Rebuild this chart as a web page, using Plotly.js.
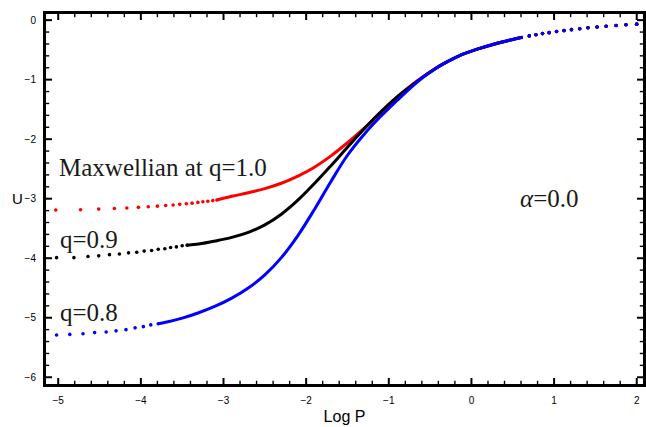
<!DOCTYPE html>
<html>
<head>
<meta charset="utf-8">
<script src="https://cdn.plot.ly/plotly-3.0.1.min.js"></script>
<style>html,body{margin:0;padding:0;background:#fff;}#chart{width:646px;height:427px;}</style>
</head>
<body>
<div id="chart"></div>
<script>
// ---- data ----
const xTicks = [-5, -4, -3, -2, -1, 0, 1, 2];
const yTicks = [-6, -5, -4, -3, -2, -1, 0];
const minorPerMajor = 5;

// left sparse dotted tails
const redTailX   = [-5.03, -4.73, -4.51, -4.32, -4.17, -4.03, -3.91, -3.80, -3.70, -3.61, -3.53, -3.45, -3.38, -3.31, -3.25, -3.19, -3.13, -3.08];
const redTailY   = [-3.19, -3.185, -3.175, -3.165, -3.155, -3.145, -3.135, -3.125, -3.115, -3.105, -3.095, -3.085, -3.075, -3.062, -3.052, -3.042, -3.032, -3.022];
const blackTailX = [-5.02, -4.81, -4.64, -4.51, -4.38, -4.26, -4.15, -4.05, -3.96, -3.87, -3.79, -3.71, -3.64, -3.57, -3.50, -3.44];
const blackTailY = [-3.99, -3.99, -3.97, -3.96, -3.94, -3.93, -3.91, -3.90, -3.88, -3.87, -3.85, -3.84, -3.82, -3.81, -3.79, -3.78];
const blueTailX  = [-5.02, -4.86, -4.70, -4.56, -4.42, -4.30, -4.18, -4.07, -3.97, -3.88, -3.79];
const blueTailY  = [-5.29, -5.28, -5.27, -5.25, -5.24, -5.22, -5.20, -5.17, -5.15, -5.12, -5.10];

// dense middle parts
const redMidX   = [-3.08, -2.9, -2.7, -2.5, -2.3, -2.1, -1.9, -1.7, -1.5, -1.3, -1.1, -0.9, -0.73, -0.6, -0.45, -0.33, -0.15, 0.07, 0.27, 0.47, 0.62];
const redMidY   = [-3.022, -2.96, -2.90, -2.83, -2.74, -2.62, -2.47, -2.28, -2.06, -1.82, -1.56, -1.30, -1.095, -0.965, -0.825, -0.726, -0.60, -0.488, -0.404, -0.334, -0.288];
const blackMidX = [-3.44, -3.3, -3.1, -2.9, -2.7, -2.5, -2.3, -2.1, -1.9, -1.7, -1.5, -1.3, -1.1, -0.9, -0.73, -0.6, -0.45, -0.33, -0.15, 0.07, 0.27, 0.47, 0.62];
const blackMidY = [-3.78, -3.76, -3.71, -3.65, -3.565, -3.44, -3.26, -3.025, -2.745, -2.445, -2.135, -1.83, -1.545, -1.29, -1.105, -0.97, -0.826, -0.726, -0.60, -0.488, -0.404, -0.334, -0.288];
const blueMidX  = [-3.79, -3.7, -3.5, -3.3, -3.1, -2.9, -2.7, -2.5, -2.3, -2.1, -1.9, -1.7, -1.5, -1.3, -1.1, -0.9, -0.73, -0.6, -0.45, -0.33, -0.15, 0.07, 0.27, 0.47, 0.62];
const blueMidY  = [-5.10, -5.076, -5.006, -4.916, -4.806, -4.67, -4.50, -4.28, -3.99, -3.62, -3.18, -2.71, -2.27, -1.92, -1.62, -1.35, -1.128, -0.976, -0.828, -0.727, -0.60, -0.488, -0.404, -0.334, -0.288];

// right sparse dotted tail (all three curves coincide)
const rightTailX = [0.70, 0.78, 0.86, 0.94, 1.03, 1.12, 1.21, 1.31, 1.41, 1.52, 1.63, 1.75, 1.87, 2.00];
const rightTailY = [-0.265, -0.245, -0.226, -0.21, -0.192, -0.176, -0.16, -0.144, -0.129, -0.116, -0.102, -0.09, -0.078, -0.067];

const curveColors = ['#ff0000', '#000000', '#0000ff'];
const curveLabels = ['Maxwellian at q=1.0', 'q=0.9', 'q=0.8'];

const serif = {family: 'Liberation Serif, Times New Roman, serif', size: 25, color: '#1a1a1a'};
const sans = 'Liberation Sans, Arial, Helvetica, sans-serif';
const xRange = [-5.16, 2.088];
const yRange = [-6.13, 0.12];

// ---- build traces ----
const tails = [[redTailX, redTailY], [blackTailX, blackTailY], [blueTailX, blueTailY]];
const mids = [[redMidX, redMidY], [blackMidX, blackMidY], [blueMidX, blueMidY]];
const traces = [];
for (let i = 0; i < 3; i++) {
  traces.push({x: tails[i][0], y: tails[i][1], mode: 'markers', type: 'scatter',
    marker: {color: curveColors[i], size: 3.6}, showlegend: false, hoverinfo: 'skip'});
  traces.push({x: mids[i][0], y: mids[i][1], mode: 'lines', type: 'scatter',
    line: {color: curveColors[i], width: 3, shape: 'spline', smoothing: 1}, showlegend: false, hoverinfo: 'skip'});
  traces.push({x: rightTailX, y: rightTailY, mode: 'markers', type: 'scatter',
    marker: {color: curveColors[i], size: 3.6}, showlegend: false, hoverinfo: 'skip'});
}

// ---- inside ticks (major + minor, all four sides) ----
function tickValues(ticks, range) {
  const step = (ticks[1] - ticks[0]) / minorPerMajor;
  const k0 = Math.ceil(range[0] / step - 1e-9), k1 = Math.floor(range[1] / step + 1e-9);
  const major = [], minor = [];
  for (let k = k0; k <= k1; k++) {
    const v = Math.round(k * step * 1000) / 1000;
    (k % minorPerMajor === 0 ? major : minor).push(v);
  }
  return {major: major, minor: minor};
}
const xtv = tickValues(xTicks, xRange), ytv = tickValues(yTicks, yRange);
function tickTrace(xs, ys, symbol, size, width) {
  return {x: xs, y: ys, type: 'scatter', mode: 'markers', cliponaxis: true, showlegend: false, hoverinfo: 'skip',
    marker: {symbol: symbol, size: size, color: '#000', line: {color: '#000', width: width}}};
}
[[xtv.major, 10, 2], [xtv.minor, 6, 1.4]].forEach(function (t) {
  traces.push(tickTrace(t[0], t[0].map(() => yRange[0]), 'line-ns-open', t[1], t[2]));
  traces.push(tickTrace(t[0], t[0].map(() => yRange[1]), 'line-ns-open', t[1], t[2]));
});
[[ytv.major, 10, 2], [ytv.minor, 6, 1.4]].forEach(function (t) {
  traces.push(tickTrace(t[0].map(() => xRange[0]), t[0], 'line-ew-open', t[1], t[2]));
  traces.push(tickTrace(t[0].map(() => xRange[1]), t[0], 'line-ew-open', t[1], t[2]));
});

const axisCommon = {
  showgrid: false, zeroline: false, showline: true, linecolor: '#000', linewidth: 2,
  mirror: true, ticks: '', tickfont: {family: sans, size: 10, color: '#000'},
  tickmode: 'array', ticklabelstandoff: 5
};

const layout = {
  width: 646, height: 427,
  margin: {l: 45, r: 2, t: 13, b: 42, pad: 0},
  paper_bgcolor: '#fff', plot_bgcolor: '#fff',
  xaxis: Object.assign({}, axisCommon, {
    range: xRange, tickvals: xTicks, ticktext: xTicks.map(v => v < 0 ? '\u2212' + (-v) : String(v)),
    title: {text: 'Log P', font: {family: sans, size: 16, color: '#000'}, standoff: 6}
  }),
  yaxis: Object.assign({}, axisCommon, {
    range: yRange, tickvals: yTicks, ticktext: yTicks.map(v => v < 0 ? '\u2212' + (-v) : String(v))
  }),
  shapes: [
    {type: 'rect', xref: 'paper', yref: 'paper', x0: 0, x1: 1, y0: 0, y1: 1, layer: 'above',
     line: {color: '#000', width: 2}, fillcolor: 'rgba(0,0,0,0)'}
  ],
  annotations: [
    {x: -5.02, y: -2.47, xref: 'x', yref: 'y', text: curveLabels[0], showarrow: false, xanchor: 'left', yanchor: 'middle', font: serif},
    {x: -5.0, y: -3.68, xref: 'x', yref: 'y', text: curveLabels[1], showarrow: false, xanchor: 'left', yanchor: 'middle', font: serif},
    {x: -5.0, y: -4.92, xref: 'x', yref: 'y', text: curveLabels[2], showarrow: false, xanchor: 'left', yanchor: 'middle', font: serif},
    {x: 0.56, y: -2.99, xref: 'x', yref: 'y', text: '<i>α</i>=0.0', showarrow: false, xanchor: 'left', yanchor: 'middle', font: serif},
    {x: (17 - 45) / 599, y: -3.0, xref: 'paper', yref: 'y', xanchor: 'center', yanchor: 'middle', text: 'U', showarrow: false,
     font: {family: sans, size: 15, color: '#000'}}
  ]
};
Plotly.newPlot('chart', traces, layout, {staticPlot: true, displayModeBar: false});
</script>
</body>
</html>
